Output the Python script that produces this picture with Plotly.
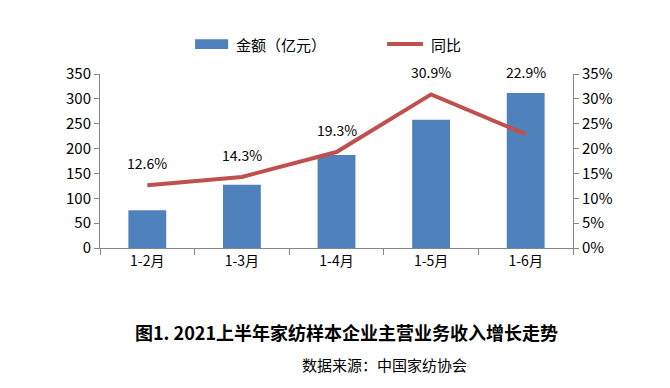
import plotly.graph_objects as go

categories = ["1-2月", "1-3月", "1-4月", "1-5月", "1-6月"]
amount = [76, 127, 187, 258, 312]
yoy = [12.6, 14.3, 19.3, 30.9, 22.9]
label_shift = [22, 22, 22, 22, 62]
bar_name = "金额（亿元）"
line_name = "同比"

FONT = "Noto Sans CJK SC"
AX = "#868686"
BAR_C = "#4F81BD"
LINE_C = "#C0504D"

fig = go.Figure()
fig.add_trace(go.Bar(x=categories, y=amount, name=bar_name,
                     marker=dict(color=BAR_C, line=dict(width=0)),
                     width=0.4, showlegend=False))
fig.add_trace(go.Scatter(x=categories, y=yoy, name=line_name, yaxis="y2",
                         mode="lines", line=dict(color=LINE_C, width=4),
                         showlegend=False))

for c, v, s in zip(categories, yoy, label_shift):
    fig.add_annotation(x=c, y=v, yref="y2", text=f"{v:.1f}%", showarrow=False,
                       yshift=s, xanchor="center", yanchor="middle",
                       font=dict(size=14, color="#000000", family=FONT))

# manual legend
fig.add_shape(type="rect", xref="paper", yref="paper", x0=0.201, x1=0.271,
              y0=1.143, y1=1.200, fillcolor=BAR_C, line=dict(width=0))
fig.add_annotation(x=0.283, y=1.172, xref="paper", yref="paper", text=bar_name,
                   showarrow=False, xanchor="left", yanchor="middle",
                   font=dict(size=15, color="#000000", family=FONT))
fig.add_shape(type="line", xref="paper", yref="paper", x0=0.607, x1=0.683,
              y0=1.172, y1=1.172, line=dict(color=LINE_C, width=4))
fig.add_annotation(x=0.695, y=1.172, xref="paper", yref="paper", text=line_name,
                   showarrow=False, xanchor="left", yanchor="middle",
                   font=dict(size=15, color="#000000", family=FONT))

fig.add_annotation(x=0.522, y=-0.483, xref="paper", yref="paper",
                   text="<b>图1. 2021上半年家纺样本企业主营业务收入增长走势</b>",
                   showarrow=False, xanchor="center", yanchor="middle",
                   font=dict(size=18, color="#000000", family=FONT))
fig.add_annotation(x=0.602, y=-0.672, xref="paper", yref="paper",
                   text="数据来源：中国家纺协会",
                   showarrow=False, xanchor="center", yanchor="middle",
                   font=dict(size=15, color="#000000", family=FONT))

fig.update_layout(
    width=654, height=372,
    margin=dict(l=92, r=89, t=66, b=132),
    paper_bgcolor="white", plot_bgcolor="white",
    font=dict(family=FONT, size=15, color="#000000"),
    showlegend=False,
    bargap=0.6,
    xaxis=dict(showline=True, linecolor=AX, linewidth=1, ticks="outside",
               tickcolor=AX, ticklen=6, tickson="boundaries", showgrid=False,
               tickfont=dict(size=14)),
    yaxis=dict(range=[0, 350], dtick=50, showline=True, linecolor=AX, linewidth=1,
               ticks="outside", tickcolor=AX, ticklen=5, showgrid=False, zeroline=False,
               tickfont=dict(size=15)),
    yaxis2=dict(range=[0, 35], dtick=5, overlaying="y", side="right", showline=True,
                linecolor=AX, linewidth=1, ticks="outside", tickcolor=AX, ticklen=5,
                showgrid=False, zeroline=False, ticksuffix="%", tickfont=dict(size=15)),
)

fig.write_html("out.html")
